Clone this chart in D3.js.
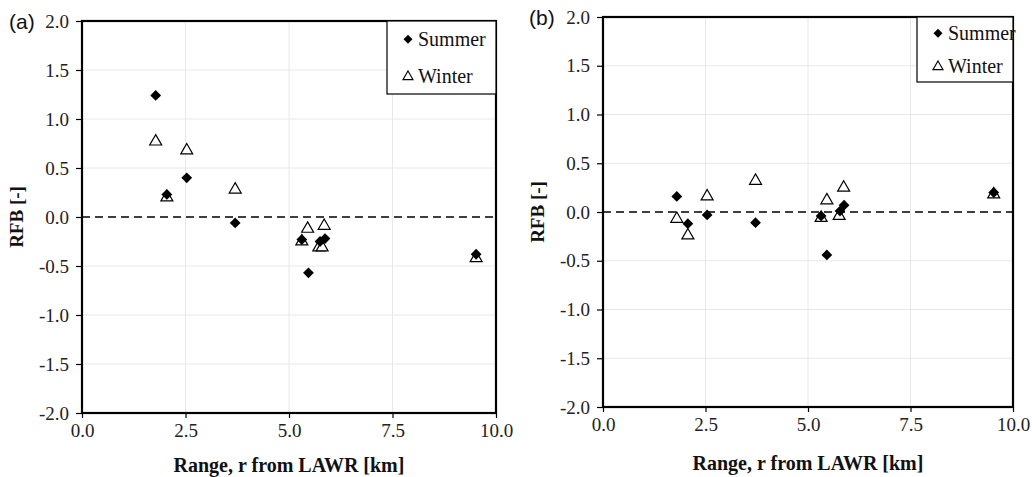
<!DOCTYPE html>
<html><head><meta charset="utf-8">
<script src="https://cdn.jsdelivr.net/npm/d3@7"></script>
<style>body{margin:0;background:#fff}svg{display:block}</style>
</head><body>
<svg id="c" width="1032" height="477"></svg>
<script>
const xTicks = [0, 2.5, 5, 7.5, 10];
const yTicks = [-2, -1.5, -1, -0.5, 0, 0.5, 1, 1.5, 2];
const seriesNames = ["Summer", "Winter"];
const panelLabels = ["(a)", "(b)"];
const xTitle = "Range, r from LAWR [km]";
const yTitle = "RFB  [-]";

// panel (a)
const summerA = [[1.78,1.24],[2.05,0.23],[2.53,0.40],[3.70,-0.06],[5.31,-0.23],[5.47,-0.57],[5.75,-0.25],[5.87,-0.22],[9.52,-0.38]];
const winterA = [[1.78,0.78],[2.05,0.21],[2.53,0.69],[3.70,0.29],[5.31,-0.24],[5.45,-0.11],[5.72,-0.30],[5.80,-0.30],[5.85,-0.08],[9.52,-0.41]];
// panel (b)
const summerB = [[1.80,0.16],[2.07,-0.12],[2.54,-0.03],[3.72,-0.11],[5.32,-0.04],[5.46,-0.44],[5.78,0.01],[5.88,0.07],[9.53,0.20]];
const winterB = [[1.80,-0.06],[2.07,-0.23],[2.54,0.17],[3.72,0.33],[5.32,-0.05],[5.46,0.13],[5.76,-0.03],[5.87,0.26],[9.53,0.19]];

const svg = d3.select("#c");
const serif = "'Liberation Serif','Times New Roman',serif";

const panels = [
  {x0:82, x1:496, y0:21, y1:413, summer:summerA, winter:winterA, label:panelLabels[0], lx:9, legend:{x0:387, y1:94}, ytx:17, tty:472},
  {x0:603, x1:1013, y0:17, y1:407, summer:summerB, winter:winterB, label:panelLabels[1], lx:529, legend:{x0:917, y1:82}, ytx:538, tty:470}
];

const diamond = d3.symbol().type(d3.symbolSquare).size(58);
const tri = d3.symbol().type(d3.symbolTriangle).size(62);

panels.forEach(p => {
  const x = d3.scaleLinear().domain([0,10]).range([p.x0, p.x1]);
  const y = d3.scaleLinear().domain([-2,2]).range([p.y1, p.y0]);
  const g = svg.append("g");

  // gridlines
  g.append("g").selectAll("line").data(xTicks.filter(t => t>0 && t<10)).join("line")
    .attr("x1", d=>x(d)).attr("x2", d=>x(d)).attr("y1", p.y0).attr("y2", p.y1)
    .attr("stroke", "#e8e8e8").attr("stroke-width", 1);
  g.append("g").selectAll("line").data(yTicks.filter(t => t>-2 && t<2 && t!==0)).join("line")
    .attr("x1", p.x0).attr("x2", p.x1).attr("y1", d=>y(d)).attr("y2", d=>y(d))
    .attr("stroke", "#e8e8e8").attr("stroke-width", 1);

  // zero dashed line
  g.append("line").attr("x1", p.x0).attr("x2", p.x1).attr("y1", y(0)).attr("y2", y(0))
    .attr("stroke", "#000").attr("stroke-width", 1.3).attr("stroke-dasharray", "8,5");

  // axes
  const fmt = d => d.toFixed(1);
  const ya = g.append("g").attr("transform", `translate(${p.x0},0)`)
    .call(d3.axisLeft(y).tickValues(yTicks).tickSize(6).tickPadding(7).tickFormat(fmt));
  const xa = g.append("g").attr("transform", `translate(0,${p.y1})`)
    .call(d3.axisBottom(x).tickValues(xTicks).tickSize(5).tickPadding(6).tickFormat(fmt));
  [ya, xa].forEach(a => {
    a.attr("font-family", serif).attr("font-size", 19);
    a.select(".domain").remove();
    a.selectAll("text").attr("fill", "#222");
    a.selectAll("line").attr("stroke", "#000").attr("stroke-width", 1.2);
  });

  // frame
  g.append("rect").attr("x", p.x0).attr("y", p.y0).attr("width", p.x1-p.x0).attr("height", p.y1-p.y0)
    .attr("fill", "none").attr("stroke", "#000").attr("stroke-width", 2.2);

  // points
  g.append("g").selectAll("path").data(p.winter).join("path")
    .attr("d", tri).attr("transform", d=>`translate(${x(d[0])},${y(d[1])+1})`)
    .attr("fill", "#fff").attr("stroke", "#000").attr("stroke-width", 1.2);
  g.append("g").selectAll("path").data(p.summer).join("path")
    .attr("d", diamond).attr("transform", d=>`translate(${x(d[0])},${y(d[1])}) rotate(45)`)
    .attr("fill", "#000");

  // legend
  g.append("rect").attr("x", p.legend.x0).attr("y", p.y0).attr("width", p.x1-p.legend.x0).attr("height", p.legend.y1-p.y0)
    .attr("fill", "#fff").attr("stroke", "#000").attr("stroke-width", 1.2);
  const lh = (p.legend.y1 - p.y0);
  seriesNames.forEach((s, i) => {
    const cy = p.y0 + lh*(i===0 ? 0.25 : 0.75);
    if (i === 0) {
      g.append("path").attr("d", d3.symbol().type(d3.symbolSquare).size(40)())
        .attr("transform", `translate(${p.legend.x0+21},${cy}) rotate(45)`).attr("fill", "#000");
    } else {
      g.append("path").attr("d", d3.symbol().type(d3.symbolTriangle).size(44)())
        .attr("transform", `translate(${p.legend.x0+21},${cy+1})`)
        .attr("fill", "#fff").attr("stroke", "#000").attr("stroke-width", 1.1);
    }
    g.append("text").attr("x", p.legend.x0+31).attr("y", cy+7).text(s)
      .attr("font-family", serif).attr("font-size", 20).attr("fill", "#111");
  });

  // panel label
  g.append("text").attr("x", p.lx).attr("y", p.y0+8).text(p.label)
    .attr("font-family", "'Liberation Sans',Arial,sans-serif").attr("font-size", 21).attr("fill", "#111");

  // axis titles
  g.append("text").attr("x", (p.x0+p.x1)/2).attr("y", p.tty).attr("text-anchor", "middle")
    .attr("font-family", serif).attr("font-weight", "bold").attr("font-size", 20).attr("fill", "#111").text(xTitle);
  g.append("text").attr("transform", `translate(${p.ytx+6},${(p.y0+p.y1)/2}) rotate(-90)`).attr("text-anchor", "middle")
    .attr("font-family", serif).attr("font-weight", "bold").attr("font-size", 19).attr("fill", "#111").text(yTitle);
});
</script>
</body></html>
